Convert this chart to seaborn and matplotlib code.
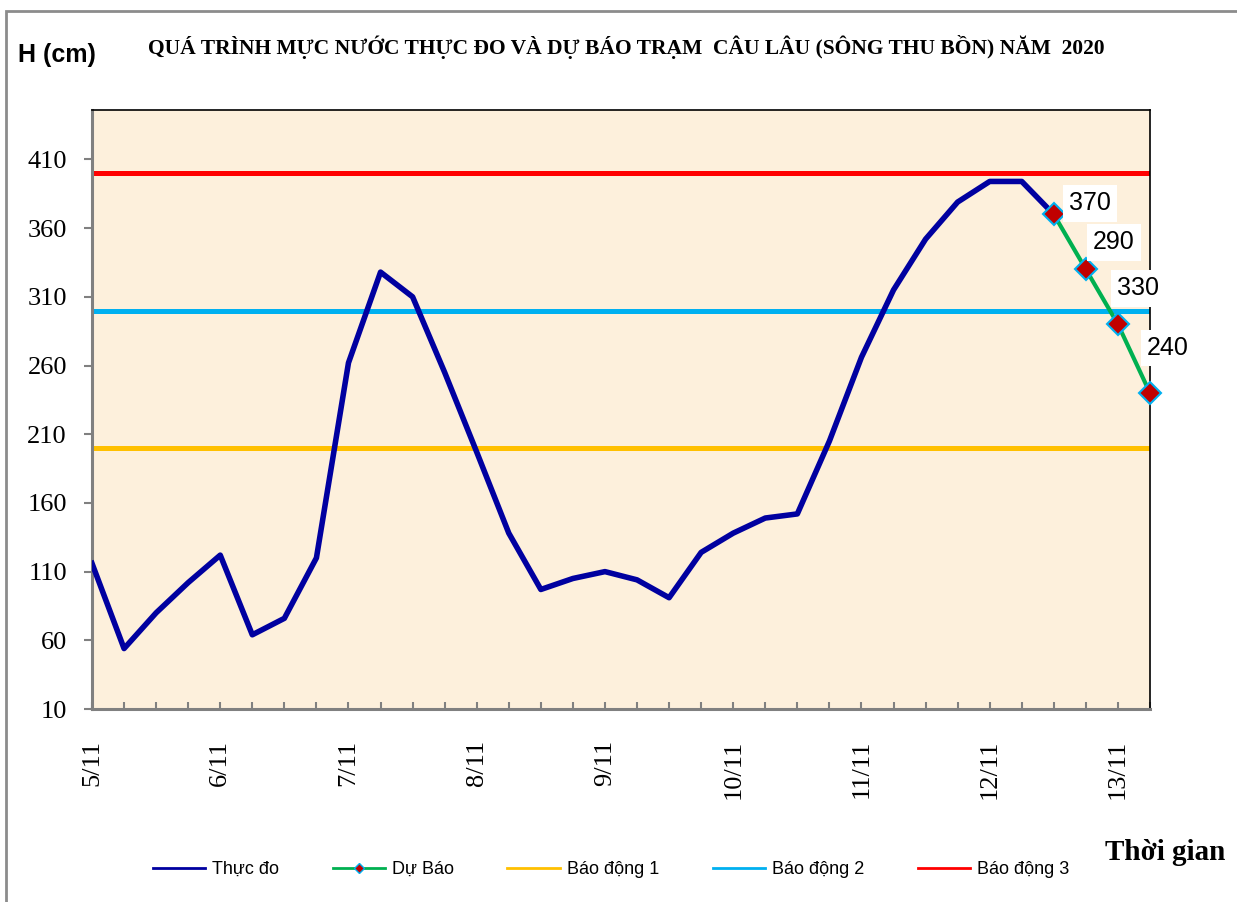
import matplotlib
matplotlib.use("Agg")
import matplotlib.pyplot as plt
from matplotlib.patches import Rectangle
from matplotlib.lines import Line2D
import seaborn as sns
import pandas as pd

# 6-hourly steps starting 5/11 00h
day_labels = ['5/11', '6/11', '7/11', '8/11', '9/11', '10/11', '11/11', '12/11', '13/11']
obs_level = [116, 54, 80, 102, 122, 64, 76, 120, 262, 328, 310, 255, 197, 138, 97,
             105, 110, 104, 91, 124, 138, 149, 152, 205, 266, 315, 352, 379, 394, 394, 370]
fc_step = [30, 31, 32, 33]
fc_level = [370, 330, 290, 240]
fc_text = ['370', '290', '330', '240']
alarm_names = ['Báo động 1', 'Báo động 2', 'Báo động 3']
alarm_levels = [200, 300, 400]

obs = pd.DataFrame({'step': range(len(obs_level)), 'level': obs_level})
fc = pd.DataFrame({'step': fc_step, 'level': fc_level})

plt.rcParams['font.family'] = ['Liberation Serif', 'DejaVu Serif']

fig = plt.figure(figsize=(12.37, 9.02), dpi=100)
ax = fig.add_axes([92 / 1237, 1 - 709 / 902, (1150 - 92) / 1237, (709 - 110) / 902])
ax.set_facecolor('#FDF0DC')

# outer chart frame (only left and top visible)
fig.patches.append(Rectangle((6 / 1237, -0.1), 1.2, 1 - 11 / 902 + 0.1, transform=fig.transFigure,
                             fill=False, edgecolor='#8C8C8C', linewidth=2))

obs_color, fc_color = '#0000A0', '#00B050'
alarm_colors = ['#FFC000', '#00B0F0', '#FF0000']
for lvl, c in zip(alarm_levels, alarm_colors):
    ax.axhline(lvl, color=c, lw=3.6, zorder=2)

sns.lineplot(data=obs, x='step', y='level', ax=ax, color=obs_color, lw=4, zorder=3)
sns.lineplot(data=fc, x='step', y='level', ax=ax, color=fc_color, lw=3, marker='D', markersize=11,
             markerfacecolor='#C00000', markeredgecolor='#00B0F0', markeredgewidth=1.5,
             zorder=4, clip_on=False)

offsets = [(36, 11), (28, 27), (20, 36), (18, 45)]
for s, v, t, off in zip(fc_step, fc_level, fc_text, offsets):
    ax.annotate(t, (s, v), xytext=(off[0] * 0.72, off[1] * 0.72), textcoords='offset points',
                ha='center', va='center', fontsize=18, family=['Liberation Sans', 'DejaVu Sans'],
                bbox=dict(boxstyle='square,pad=0.25', fc='white', ec='none'), zorder=5,
                annotation_clip=False)

ax.set_xlim(0, 33)
ax.set_ylim(10, 446)
ax.set_yticks(range(10, 411, 50))
n_steps = 34
ax.set_xticks(range(n_steps))
ax.set_xticklabels([day_labels[i // 4] if i % 4 == 0 else '' for i in range(n_steps)], rotation=90)
ax.tick_params(axis='y', direction='out', length=6, width=1.5, color='#808080', pad=12, labelsize=19)
ax.tick_params(axis='x', direction='in', length=5, width=1.5, color='#808080', pad=22, labelsize=19)
for lab in ax.get_xticklabels():
    lab.set_va('top')
ax.set_xlabel('')
ax.set_ylabel('')
for side in ['left', 'bottom']:
    ax.spines[side].set_color('#808080')
    ax.spines[side].set_linewidth(2.2)
for side in ['top', 'right']:
    ax.spines[side].set_color('black')
    ax.spines[side].set_linewidth(1.2)

handles = [Line2D([], [], color=obs_color, lw=2),
           Line2D([], [], color=fc_color, lw=2, marker='D', markersize=5,
                  markerfacecolor='#C00000', markeredgecolor='#00B0F0', markeredgewidth=1)]
handles += [Line2D([], [], color=c, lw=2) for c in alarm_colors]
fig.legend(handles, ['Thực đo', 'Dự Báo'] + alarm_names, loc='center', bbox_to_anchor=(0.494, 0.036),
           ncol=5, frameon=False, handlelength=2.9, handletextpad=0.4,
           columnspacing=2.95, prop={'family': 'Liberation Sans', 'size': 13})

fig.text(18 / 1237, 1 - 55 / 902, 'H (cm)', ha='left', va='center', fontsize=18, fontweight='bold',
         family=['Liberation Sans', 'DejaVu Sans'])
fig.text(626 / 1237, 1 - 47 / 902, 'QUÁ TRÌNH MỰC NƯỚC THỰC ĐO VÀ DỰ BÁO TRẠM  CÂU LÂU (SÔNG THU BỒN) NĂM  2020',
         ha='center', va='center', fontsize=15.5, fontweight='bold')
fig.text(1165 / 1237, 1 - 852 / 902, 'Thời gian', ha='center', va='center', fontsize=21, fontweight='bold')

fig.savefig('out.png', dpi=100)
